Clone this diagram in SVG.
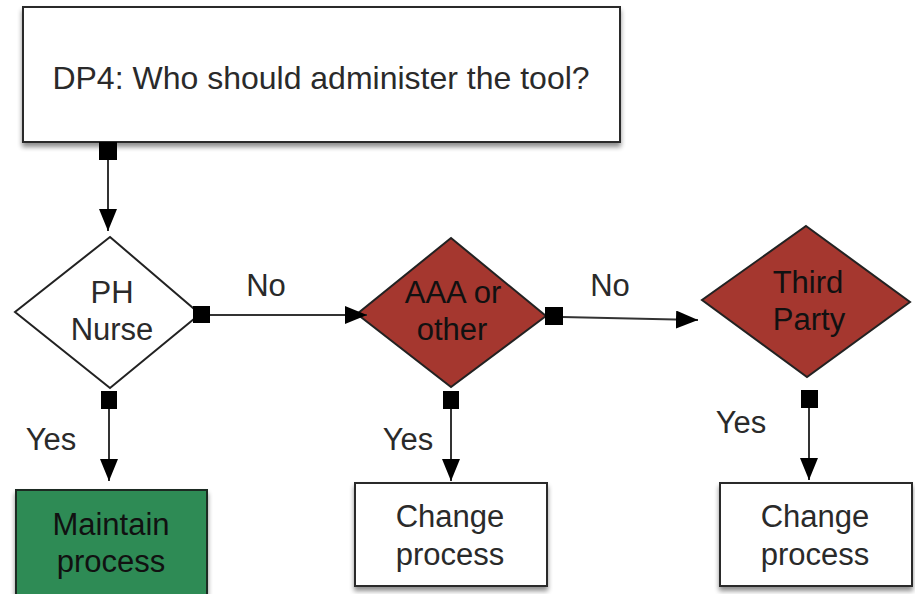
<svg xmlns="http://www.w3.org/2000/svg" width="915" height="594" viewBox="0 0 915 594">
  <style>
    .lbl { font-family: "Liberation Sans", Arial, Helvetica, sans-serif; font-size: 31px; text-anchor: middle; fill: #2a2a2a; }
    .dark { fill: #111; }
    .box { fill: #ffffff; stroke: #2b2b2b; stroke-width: 2; }
    .dia { stroke: #222; stroke-width: 2; }
    .wire { fill: none; stroke: #333; stroke-width: 2; }
    .tab { fill: #000; }
  </style>
  <defs>
    <filter id="shadow" x="-10%" y="-10%" width="120%" height="130%">
      <feGaussianBlur in="SourceAlpha" stdDeviation="2.5"/>
      <feOffset dx="0" dy="4" result="b"/>
      <feComponentTransfer><feFuncA type="linear" slope="0.45"/></feComponentTransfer>
      <feMerge><feMergeNode/><feMergeNode in="SourceGraphic"/></feMerge>
    </filter>
    <marker id="arrow" markerUnits="userSpaceOnUse" markerWidth="22" markerHeight="18" refX="22" refY="9" orient="auto">
      <path d="M0,0 L22,9 L0,18 Z" fill="#000"/>
    </marker>
  </defs>

  <rect width="915" height="594" fill="#ffffff"/>

  <g id="dp4">
    <rect class="box" x="23" y="7" width="597" height="135" filter="url(#shadow)"/>
    <text class="lbl" x="321" y="89" style="font-size:32px">DP4: Who should administer the tool?</text>
  </g>

  <g id="ph-nurse">
    <polygon class="dia" points="110,237 200,314 110,388 15,312" fill="#ffffff"/>
    <text class="lbl" x="112" y="303">PH</text>
    <text class="lbl" x="112" y="340">Nurse</text>
  </g>

  <g id="aaa-other">
    <polygon class="dia" points="451,238 546,316 451,387 357,314" fill="#a5372f"/>
    <text class="lbl dark" x="453" y="303">AAA or</text>
    <text class="lbl dark" x="452" y="340">other</text>
  </g>

  <g id="third-party">
    <polygon class="dia" points="806,226 910,302 807,377 702,300" fill="#a5372f"/>
    <text class="lbl dark" x="808" y="293">Third</text>
    <text class="lbl dark" x="809" y="330">Party</text>
  </g>

  <g id="maintain">
    <rect x="16" y="490" width="191" height="112" fill="#2e8b55" stroke="#1e2a22" stroke-width="2" filter="url(#shadow)"/>
    <text class="lbl dark" x="111" y="535">Maintain</text>
    <text class="lbl dark" x="111" y="572">process</text>
  </g>

  <g id="change-aaa">
    <rect class="box" x="355" y="483" width="192" height="103" filter="url(#shadow)"/>
    <text class="lbl" x="450" y="527">Change</text>
    <text class="lbl" x="450" y="565">process</text>
  </g>

  <g id="change-third">
    <rect class="box" x="720" y="483" width="192" height="103" filter="url(#shadow)"/>
    <text class="lbl" x="815" y="527">Change</text>
    <text class="lbl" x="815" y="565">process</text>
  </g>

  <g id="connectors">
    <line class="wire" x1="108" y1="160" x2="108" y2="231" marker-end="url(#arrow)"/>
    <rect class="tab" x="99" y="142" width="18" height="18"/>

    <line class="wire" x1="209" y1="315" x2="367" y2="315" marker-end="url(#arrow)"/>
    <rect class="tab" x="193" y="306" width="17" height="17"/>
    <text class="lbl" x="266" y="296">No</text>

    <line class="wire" x1="562" y1="317" x2="698" y2="320" marker-end="url(#arrow)"/>
    <rect class="tab" x="545" y="307" width="18" height="18"/>
    <text class="lbl" x="610" y="296">No</text>

    <line class="wire" x1="109" y1="408" x2="109" y2="481" marker-end="url(#arrow)"/>
    <rect class="tab" x="101" y="391" width="16" height="18"/>
    <text class="lbl" x="51" y="450">Yes</text>

    <line class="wire" x1="451" y1="408" x2="451" y2="481" marker-end="url(#arrow)"/>
    <rect class="tab" x="443" y="391" width="16" height="18"/>
    <text class="lbl" x="408" y="450">Yes</text>

    <line class="wire" x1="809" y1="407" x2="809" y2="480" marker-end="url(#arrow)"/>
    <rect class="tab" x="801" y="390" width="17" height="18"/>
    <text class="lbl" x="741" y="433">Yes</text>
  </g>
</svg>
